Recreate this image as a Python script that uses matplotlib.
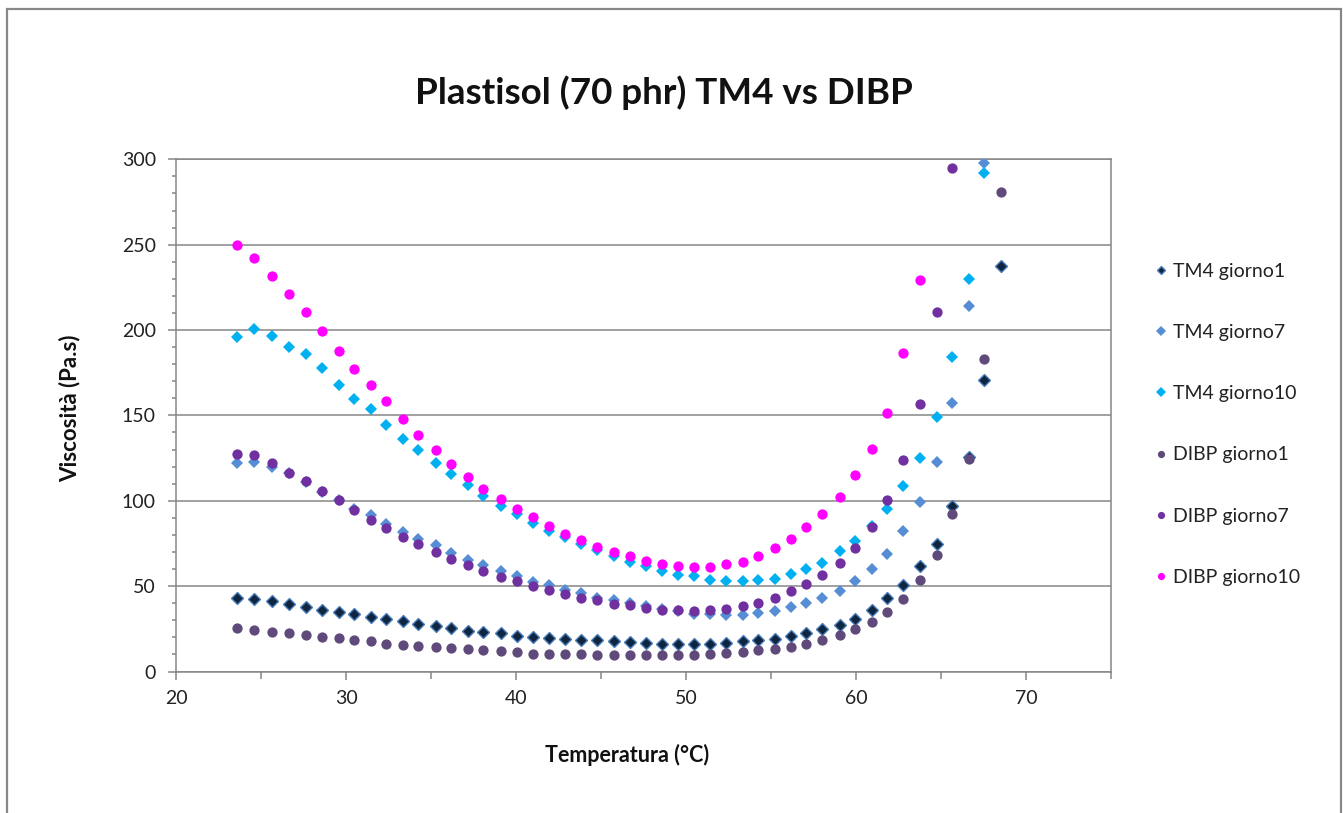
import numpy as np
import matplotlib.pyplot as plt
from matplotlib.patches import Rectangle

plt.rcParams['font.family'] = ['Lato', 'DejaVu Sans']

# temperature (°C) of each reading
temperatura = [23.57, 24.57, 25.65, 26.66, 27.66, 28.57, 29.59, 30.47, 31.47, 32.37,
               33.37, 34.25, 35.28, 36.18, 37.16, 38.04, 39.09, 40.06, 40.98, 41.94,
               42.88, 43.82, 44.78, 45.75, 46.69, 47.63, 48.59, 49.55, 50.49, 51.43,
               52.34, 53.35, 54.24, 55.24, 56.16, 57.08, 58.02, 59.04, 59.96, 60.92,
               61.82, 62.78, 63.74, 64.75, 65.63, 66.63, 67.53, 68.53]

# viscosity (Pa.s) - series stop where they leave the 0-300 axis
tm4_g1 = [42.9, 42.2, 41.0, 39.7, 37.7, 36.3, 34.8, 33.4, 32.2, 30.5,
          29.3, 27.9, 26.5, 25.2, 24.0, 23.4, 22.4, 21.0, 20.1, 19.5,
          19.1, 18.6, 18.2, 17.8, 17.2, 16.8, 16.2, 16.2, 16.2, 16.2,
          16.8, 17.6, 18.2, 19.1, 20.5, 22.6, 24.9, 27.5, 31.0, 36.1,
          43.2, 50.8, 61.5, 74.8, 96.7, 125.6, 170.5, 237.5]
tm4_g7 = [122.3, 122.7, 119.7, 116.2, 110.9, 105.1, 100.2, 95.3, 91.4, 86.5,
          81.6, 77.7, 73.8, 69.3, 65.4, 62.5, 58.7, 56.0, 52.7, 50.4,
          47.9, 45.9, 43.2, 41.6, 40.3, 38.1, 36.7, 35.2, 33.8, 33.4,
          32.8, 33.2, 34.2, 35.7, 37.5, 40.0, 42.9, 47.0, 53.1, 59.8,
          68.7, 82.0, 99.2, 122.5, 157.2, 214.3, 297.8]
tm4_g10 = [195.7, 200.8, 196.5, 190.0, 185.7, 177.9, 167.6, 159.8, 153.5, 144.1,
           136.3, 129.5, 122.1, 115.4, 109.0, 102.7, 96.9, 92.2, 86.9, 82.2,
           78.7, 74.4, 70.9, 67.4, 64.0, 61.7, 58.8, 56.7, 55.7, 53.7,
           53.1, 53.1, 53.3, 54.3, 57.0, 60.0, 63.8, 70.3, 76.2, 85.5,
           95.1, 108.6, 125.2, 149.0, 184.4, 230.1, 292.0]
dibp_g1 = [25.6, 24.4, 23.4, 22.7, 21.1, 20.1, 19.5, 18.2, 17.8, 16.2,
           15.6, 14.8, 14.3, 13.9, 12.9, 12.7, 11.9, 11.3, 10.4, 10.4,
           10.0, 10.0, 9.4, 9.4, 9.4, 9.4, 9.4, 9.4, 9.4, 10.0,
           10.7, 11.3, 12.3, 13.3, 14.6, 16.2, 18.2, 21.5, 24.6, 29.1,
           34.8, 42.2, 53.7, 68.4, 92.4, 124.6, 183.2, 281.1]
dibp_g7 = [127.1, 126.6, 122.3, 116.4, 111.3, 105.6, 100.2, 94.7, 88.9, 84.0,
           78.7, 74.4, 69.9, 66.0, 62.5, 58.8, 55.5, 52.8, 49.8, 47.9,
           45.1, 43.2, 41.6, 39.7, 38.7, 37.1, 36.3, 36.2, 35.6, 36.2,
           36.5, 38.1, 40.0, 42.8, 47.0, 51.2, 56.8, 63.6, 72.1, 84.6,
           100.6, 123.6, 156.6, 210.4, 295.1]
dibp_g10 = [250.0, 242.0, 231.8, 221.1, 210.3, 199.6, 187.7, 176.9, 168.0, 158.2,
            148.1, 138.5, 129.5, 121.5, 113.7, 106.8, 100.9, 95.3, 90.4, 85.1,
            80.7, 76.9, 73.2, 69.9, 67.6, 64.9, 63.1, 61.9, 61.1, 61.3,
            62.7, 64.3, 67.8, 72.1, 77.8, 84.5, 92.2, 102.1, 115.0, 130.1,
            151.6, 186.5, 229.5]

W, H = 1343, 813
fig = plt.figure(figsize=(W / 100, H / 100), dpi=100)
fig.patch.set_facecolor('white')

# outer chart frame
fig.patches.append(Rectangle((7 / W, -0.05), (1341 - 7) / W, 1 - 9 / H + 0.05,
                             transform=fig.transFigure, fill=False,
                             edgecolor='#888888', linewidth=1.6))

ax = fig.add_axes([176 / W, 1 - 671.5 / H, (1111 - 176) / W, (671.5 - 159.3) / H])

grey = '#868686'
series = [
    ('TM4 giorno1', tm4_g1, 'D', 6.2, '#10253F', '#4A7EBB', 1.0),
    ('TM4 giorno7', tm4_g7, 'D', 6.6, '#558ED5', '#558ED5', 0.0),
    ('TM4 giorno10', tm4_g10, 'D', 6.6, '#00B0F0', '#00B0F0', 0.0),
    ('DIBP giorno1', dibp_g1, 'o', 7.4, '#604A7B', '#604A7B', 0.0),
    ('DIBP giorno7', dibp_g7, 'o', 7.4, '#7030A0', '#7030A0', 0.0),
    ('DIBP giorno10', dibp_g10, 'o', 7.4, '#FF00FF', '#FF00FF', 0.0),
]
for name, vals, mk, ms, fc, ec, ew in series:
    ax.plot(temperatura[:len(vals)], vals, linestyle='none', marker=mk, ms=ms,
            mfc=fc, mec=ec, mew=ew, label=name, zorder=3)

ax.set_xlim(20, 75)
ax.set_ylim(0, 300)
ax.set_xticks([20, 30, 40, 50, 60, 70])
ax.set_xticks(np.arange(20, 76, 5), minor=True)
ax.set_yticks(np.arange(0, 301, 50))
ax.set_yticks(np.arange(0, 301, 10), minor=True)
ax.yaxis.grid(True, which='major', color=grey, linewidth=1.1)
ax.set_axisbelow(True)
for s in ax.spines.values():
    s.set_color(grey)
    s.set_linewidth(1.1)
ax.tick_params(which='major', direction='out', length=5.5, width=1.1, color=grey,
               labelsize=14, labelcolor='#222222')
ax.tick_params(axis='x', which='major', pad=8)
ax.tick_params(axis='y', which='major', pad=9)
ax.tick_params(which='minor', direction='out', length=3, width=1.1, color=grey)
ax.tick_params(axis='x', which='minor', length=5)

fig.text(664 / W, 1 - 93 / H, 'Plastisol (70 phr) TM4 vs DIBP', ha='center', va='center',
         fontsize=26.5, fontweight='bold', color='#111111')
fig.text(627 / W, 1 - 755 / H, 'Temperatura (°C)', ha='center', va='center',
         fontsize=15.5, fontweight='bold', color='#111111')
fig.text(70 / W, 1 - 408 / H, 'Viscosità (Pa.s)', ha='center', va='center',
         rotation=90, fontsize=16, fontweight='bold', color='#111111')

ax.legend(loc='upper left', bbox_to_anchor=(1153 / W, 1 - 263 / H),
          bbox_transform=fig.transFigure, frameon=False, fontsize=14,
          markerscale=0.7, handlelength=0.8, handletextpad=0.25,
          labelspacing=2.27, borderpad=0, borderaxespad=0, labelcolor='#222222')

fig.savefig('out.png', dpi=100)
